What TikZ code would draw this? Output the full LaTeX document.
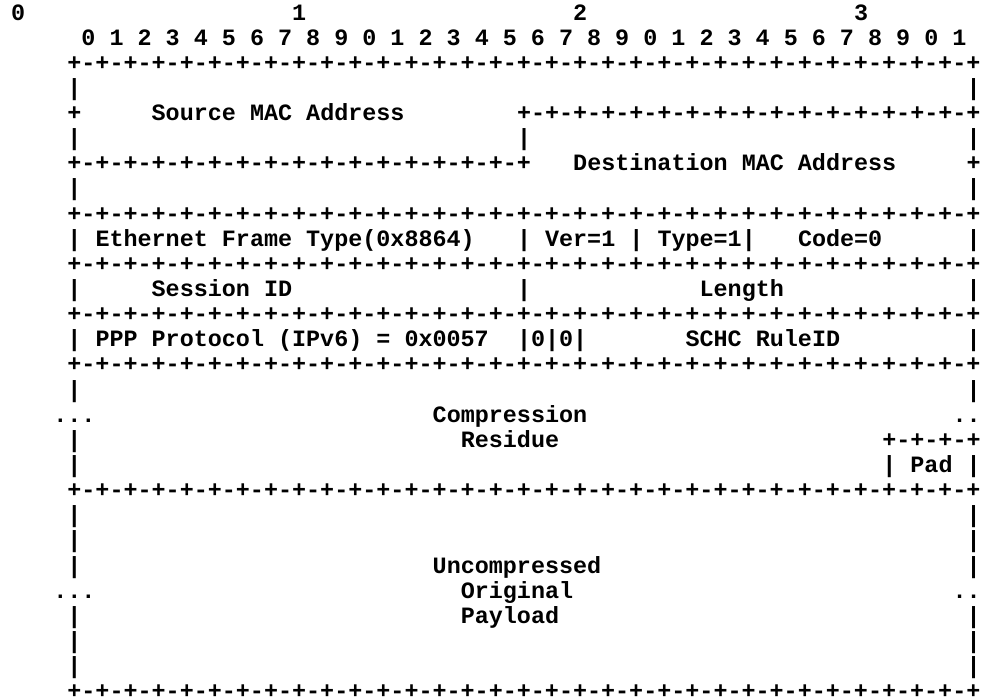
\documentclass[tikz,border=0pt]{standalone}
\usepackage{fontspec}
\setmonofont{Liberation Mono}
\usepackage{tikz}

% pieces of the ascii separator lines
\newcommand{\rulepart}{-+-+-+-+-+-+-+-+}
\newcommand{\halfrule}{+\rulepart\rulepart}
\newcommand{\fullrule}{+\rulepart\rulepart\rulepart\rulepart}

\begin{document}
\begin{tikzpicture}[x=14.05pt, y=-25.14pt,
    every node/.style={inner sep=0pt, anchor=base west,
      font=\ttfamily\bfseries\fontsize{23.41pt}{25.14pt}\selectfont}]
    \useasboundingbox (-0.783,-0.796) rectangle (69.395,27.009);
    % bit ruler
    \foreach \d in {0,...,3}
        \node (oct\d) at (20*\d,0) {\d};
    \node (bits) at (5,1) {0 1 2 3 4 5 6 7 8 9 0 1 2 3 4 5 6 7 8 9 0 1 2 3 4 5 6 7 8 9 0 1};
    % separator lines and borders
    \foreach \r in {2,8,10,12,14,19,27}
        \node (sep\r) at (4,\r) {\fullrule};
    \foreach \r in {3,5,7,9,11,13,15,17,18,20,21,22,24,25,26}
        \node (left\r) at (4,\r) {|};
    \foreach \r in {3,5,7,9,11,13,15,18,20,21,22,24,25,26}
        \node (right\r) at (68,\r) {|};
    % MAC addresses
    \node (smacedge) at (4,4) {+};
    \node (smac) at (10,4) {Source MAC Address};
    \node (smacrule) at (36,4) {\halfrule};
    \node (midbar) at (36,5) {|};
    \node (dmacrule) at (4,6) {\halfrule};
    \node (dmac) at (40,6) {Destination MAC Address};
    \node (dmacedge) at (68,6) {+};
    % PPPoE header
    \node (ethtype) at (6,9) {Ethernet Frame Type(0x8864)};
    \node (verbar) at (36,9) {|};
    \node (ver) at (38,9) {Ver=1};
    \node (typebar) at (44,9) {|};
    \node (type) at (46,9) {Type=1|};
    \node (code) at (56,9) {Code=0};
    \node (session) at (10,11) {Session ID};
    \node (lenbar) at (36,11) {|};
    \node (length) at (49,11) {Length};
    \node (proto) at (6,13) {PPP Protocol (IPv6) = 0x0057};
    \node (zeros) at (36,13) {|0|0|};
    \node (ruleid) at (48,13) {SCHC RuleID};
    % compression residue
    \node (resdotsl) at (3,16) {...};
    \node (comp) at (30,16) {Compression};
    \node (resdotsr) at (67,16) {..};
    \node (residue) at (32,17) {Residue};
    \node (padrule) at (62,17) {+-+-+-+};
    \node (padbar) at (62,18) {|};
    \node (pad) at (64,18) {Pad};
    % payload
    \node (uncomp) at (30,22) {Uncompressed};
    \node (paydotsl) at (3,23) {...};
    \node (orig) at (32,23) {Original};
    \node (paydotsr) at (67,23) {..};
    \node (payload) at (32,24) {Payload};
\end{tikzpicture}
\end{document}
